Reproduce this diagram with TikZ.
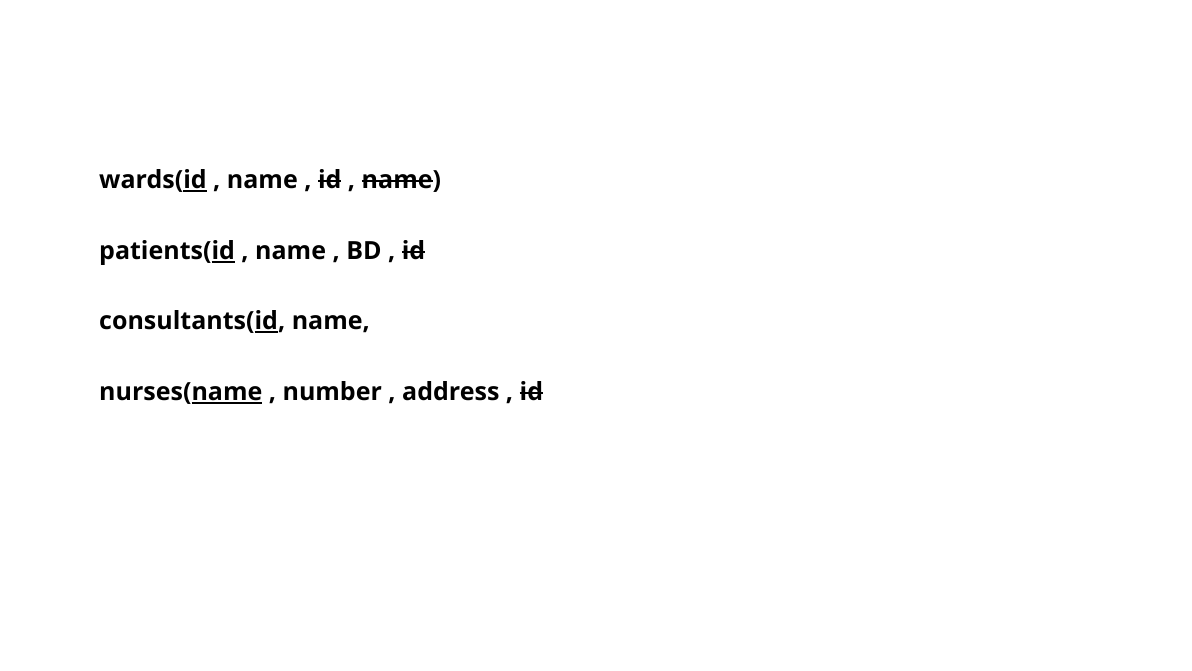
\documentclass[tikz,border=0pt]{standalone}
\usepackage{fontspec}
\setmainfont{Open Sans}
\newsavebox{\mkbox}
\newcommand{\undl}[1]{\leavevmode\sbox{\mkbox}{#1}\rlap{\rule[-3.5pt]{\wd\mkbox}{1.6pt}}\usebox{\mkbox}}
\newcommand{\strk}[1]{\leavevmode\sbox{\mkbox}{#1}\rlap{\rule[0.45ex]{\wd\mkbox}{1.6pt}}\usebox{\mkbox}}
\begin{document}
\begin{tikzpicture}[x=1pt,y=-1pt,
  rel/.style={anchor=base west,inner sep=0pt,font=\fontsize{25}{30}\selectfont\bfseries}]
\useasboundingbox (0,0) rectangle (1192,670);
\node[rel] (wards) at (99,188) {wards(\undl{id} , name , \strk{id} , \strk{name})};
\node[rel] (patients) at (99,259) {patients(\undl{id} , name , BD , \strk{id}};
\node[rel] (consultants) at (99,329) {consultants(\undl{id}, name,};
\node[rel] (nurses) at (99,400) {nurses(\undl{name} , number , address , \strk{id}};
\end{tikzpicture}
\end{document}
